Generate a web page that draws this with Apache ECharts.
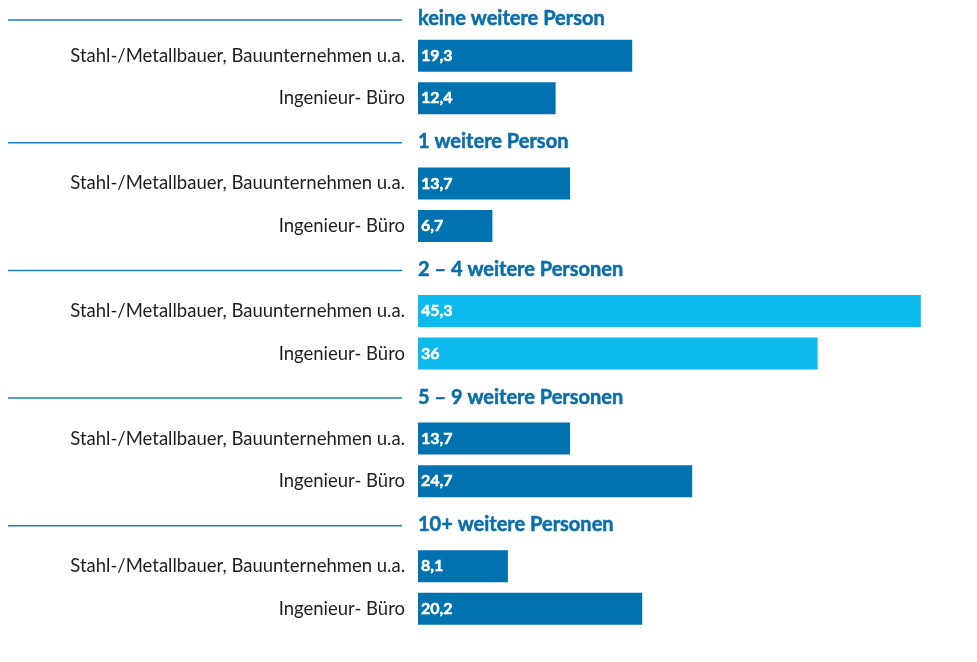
<!DOCTYPE html>
<html>
<head>
<meta charset="utf-8">
<script src="https://cdn.jsdelivr.net/npm/echarts@6/dist/echarts.min.js"></script>
<style>
  html, body { margin: 0; padding: 0; background: #fff; }
  #chart { width: 977px; height: 662px; }
</style>
</head>
<body>
<div id="chart"></div>
<script>
const groups = [
  "keine weitere Person",
  "1 weitere Person",
  "2 – 4 weitere Personen",
  "5 – 9 weitere Personen",
  "10+ weitere Personen"
];
const branches = ["Stahl-/Metallbauer, Bauunternehmen u.a.", "Ingenieur- Büro"];
const stahlValues = [19.3, 13.7, 45.3, 13.7, 8.1];
const ingenieurValues = [12.4, 6.7, 36, 24.7, 20.2];
const highlightGroup = 2;

const darkBlue = "#0072b0";
const lightBlue = "#0dbaee";
const headerBlue = "#0b6eaa";

// build rows: header, bar, bar for each group
const rowLabels = [];
const barData = [];
const headerData = [];
groups.forEach(function (g, i) {
  headerData.push([0, rowLabels.length, g]);
  rowLabels.push("");
  barData.push(null);
  const vals = [stahlValues[i], ingenieurValues[i]];
  vals.forEach(function (v, j) {
    rowLabels.push(branches[j]);
    barData.push({
      value: v,
      itemStyle: { color: i === highlightGroup ? lightBlue : darkBlue }
    });
  });
});

const chart = echarts.init(document.getElementById("chart"));

chart.setOption({
  animation: false,
  grid: { left: 418, right: 4, top: -8, bottom: 32, outerBoundsMode: "none" },
  xAxis: {
    type: "value",
    min: 0,
    max: 50,
    show: false
  },
  yAxis: {
    type: "category",
    inverse: true,
    data: rowLabels,
    axisLine: { show: false },
    axisTick: { show: false },
    axisLabel: {
      color: "#1e1e1e",
      fontFamily: "Lato",
      fontSize: 18.5,
      margin: 13
    }
  },
  series: [
    {
      type: "bar",
      data: barData,
      barWidth: 32,
      label: {
        show: true,
        position: "insideLeft",
        distance: 3,
        color: "#fff",
        fontFamily: "Lato",
        fontWeight: "bold",
        fontSize: 16,
        textBorderColor: "#fff",
        textBorderWidth: 0.5,
        formatter: function (p) {
          return String(p.value).replace(".", ",");
        }
      }
    },
    {
      type: "custom",
      data: headerData,
      encode: { x: 0, y: 1 },
      renderItem: function (params, api) {
        const pt = api.coord([0, api.value(1)]);
        const y = Math.max(pt[1] + 2, 20);
        const name = headerData[params.dataIndex][2];
        return {
          type: "group",
          children: [
            {
              type: "line",
              shape: { x1: 8, y1: y, x2: 402, y2: y },
              style: { stroke: "#1a80c2", lineWidth: 1.5 }
            },
            {
              type: "text",
              x: pt[0],
              y: y - 1,
              style: {
                text: name,
                fill: headerBlue,
                stroke: headerBlue,
                lineWidth: 0.5,
                font: "bold 20px Lato",
                textVerticalAlign: "middle",
                textAlign: "left"
              }
            }
          ]
        };
      }
    }
  ]
});
</script>
</body>
</html>
